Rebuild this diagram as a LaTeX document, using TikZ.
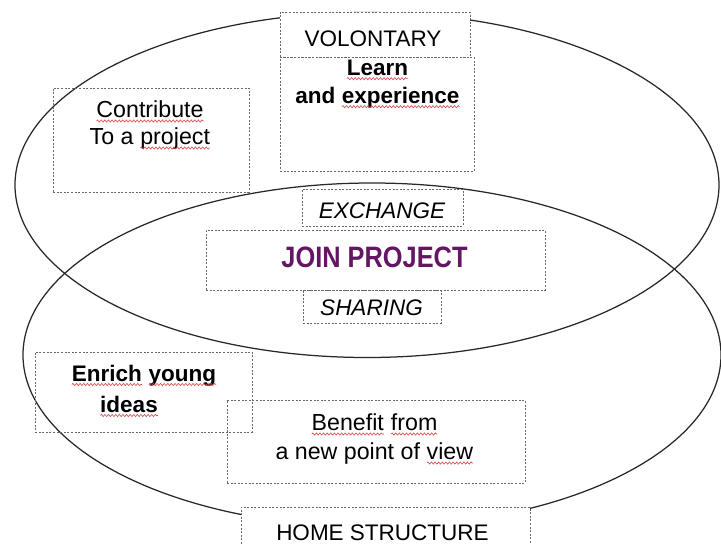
\documentclass[tikz,border=0pt]{standalone}
\usepackage{fontspec}
\setmainfont{Liberation Sans}
\newfontfamily\joinfont[FakeStretch=0.86]{Liberation Sans}
\usetikzlibrary{shapes.geometric,decorations.pathmorphing}
\definecolor{joinpurple}{RGB}{100,22,100}
\definecolor{boxgray}{RGB}{105,105,105}
\definecolor{ringgray}{RGB}{40,40,40}
\definecolor{squig}{RGB}{215,70,70}
\newcommand\spellw[1]{\tikz[baseline=(sw.base)]{\node[inner sep=0pt,outer sep=0pt,anchor=base] (sw) at (0,0) {#1};\draw[squig,line width=0.6pt,decorate,decoration={snake,amplitude=1.1pt,segment length=3.6pt}] ([yshift=-3.2pt]sw.base west) -- ([yshift=-3.2pt]sw.base east);}}
\begin{document}
\begin{tikzpicture}[x=1pt,y=-1pt,
  ring/.style={ellipse, draw=ringgray, line width=1.25pt, inner sep=0pt, outer sep=0pt},
  dotbox/.style={rectangle, draw=boxgray, line width=0.9pt, dash pattern=on 2pt off 1.6pt, inner sep=0pt, outer sep=0pt},
  txt/.style={inner sep=0pt, outer sep=0pt, align=center, font=\fontsize{22.5}{27.5}\selectfont},
  txtb/.style={txt, font=\fontsize{22.5}{28}\selectfont\bfseries},
  txti/.style={txt, font=\fontsize{22.5}{27.5}\selectfont\itshape},
]
\useasboundingbox (0,0) rectangle (721,544);
% the two rings
\node[ring, minimum width=704pt, minimum height=345pt] (topring) at (367,185) {};
\node[ring, minimum width=698pt, minimum height=344pt] (bottomring) at (372,355) {};
% dotted boxes
\node[dotbox, fill=white, minimum width=190pt, minimum height=45pt] (vol) at (375,34.5) {};
\node[dotbox, minimum width=194pt, minimum height=114pt] (learn) at (377,114) {};
\node[dotbox, minimum width=196pt, minimum height=104pt] (contrib) at (151,140) {};
\node[dotbox, minimum width=161pt, minimum height=37pt] (exch) at (382.5,207.5) {};
\node[dotbox, minimum width=339pt, minimum height=60pt] (join) at (375.5,260) {};
\node[dotbox, minimum width=138pt, minimum height=33pt] (share) at (372,306.5) {};
\node[dotbox, minimum width=217pt, minimum height=80pt] (enrich) at (143.5,392) {};
\node[dotbox, minimum width=298pt, minimum height=83pt] (benefit) at (376,441.5) {};
\node[dotbox, fill=white, minimum width=289pt, minimum height=53pt] (home) at (385.5,533.5) {};
% texts
\node[txt, anchor=base] (voltxt) at (373,46) {VOLONTARY};
\node[txtb, anchor=north] (learntxt) at (377.5,60) {\spellw{Learn}\\and \spellw{experience}};
\node[txt, anchor=north, font=\fontsize{23.2}{27}\selectfont] (contribtxt) at (150,101) {\spellw{Contribute}\\To a \spellw{project}};
\node[txti, anchor=base] (exchtxt) at (382,218) {EXCHANGE};
\node[txt, anchor=base, text=joinpurple, font=\fontsize{29.5}{32}\joinfont\bfseries] (jointxt) at (374.5,267) {JOIN PROJECT};
\node[txti, anchor=base] (sharetxt) at (371.5,315) {SHARING};
\node[txtb, anchor=north, font=\fontsize{22.5}{31}\selectfont\bfseries] (enrichtxt) at (144,365) {\spellw{Enrich} \spellw{young}\\\spellw{ideas}\hspace*{30pt}};
\node[txt, anchor=north, font=\fontsize{23.2}{29}\selectfont] (benefittxt) at (374.5,414) {\spellw{Benefit} \spellw{from}\\a new point of \spellw{view}};
\node[txt, anchor=base] (hometxt) at (382.5,540) {HOME STRUCTURE};
\end{tikzpicture}
\end{document}
